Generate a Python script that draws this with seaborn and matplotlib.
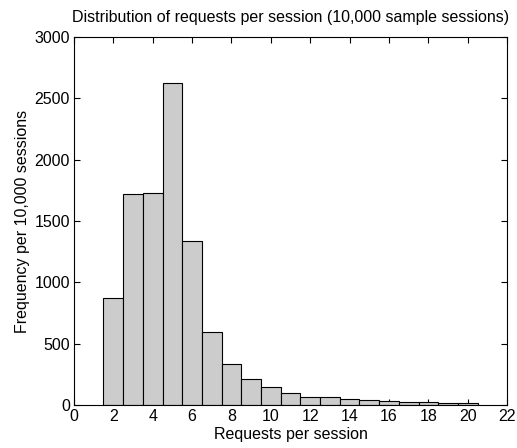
import numpy as np
import pandas as pd
import matplotlib
matplotlib.use("Agg")
import matplotlib.pyplot as plt
import seaborn as sns

requests = [2, 3, 4, 5, 6, 7, 8, 9, 10, 11, 12, 13, 14, 15, 16, 17, 18, 19, 20]
frequency = [872, 1720, 1728, 2625, 1336, 595, 334, 212, 150, 96, 64, 63, 52, 41, 35, 25, 22, 15, 14]
x_ticks = [0, 2, 4, 6, 8, 10, 12, 14, 16, 18, 20, 22]
y_ticks = [0, 500, 1000, 1500, 2000, 2500, 3000]

sns.set_style("ticks")
plt.rcParams['font.family'] = ['Liberation Sans', 'DejaVu Sans']
plt.rcParams['text.color'] = 'black'
plt.rcParams['axes.labelcolor'] = 'black'

df = pd.DataFrame({"requests": requests, "frequency": frequency})

fig = plt.figure(figsize=(5.17, 4.48), dpi=100)
ax = fig.add_axes([0.143, 0.096, 0.838, 0.821])

sns.histplot(data=df, x="requests", weights="frequency", discrete=True,
             color="#cccccc", alpha=1.0,
             edgecolor="black", linewidth=0.8, ax=ax)

ax.set_xlim(0, 22)
ax.set_ylim(0, 3000)
ax.set_xticks(x_ticks)
ax.set_yticks(y_ticks)
ax.tick_params(direction="in", top=True, right=True, length=4, width=0.8,
               labelsize=11.5, colors="black", pad=3)
for s in ax.spines.values():
    s.set_visible(True)
    s.set_linewidth(0.8)
    s.set_color("black")
ax.set_xlabel("Requests per session", fontsize=11.5, labelpad=2, color="black")
ax.set_ylabel("Frequency per 10,000 sessions", fontsize=11.5, labelpad=3, color="black")
ax.set_title("Distribution of requests per session (10,000 sample sessions)",
             fontsize=11.5, pad=11, color="black")

fig.savefig("out.png", dpi=100)
